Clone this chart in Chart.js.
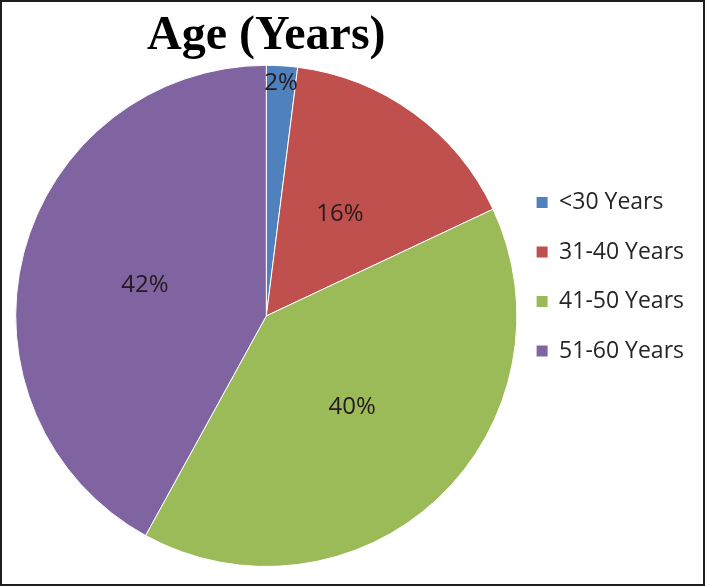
<!DOCTYPE html>
<html>
<head>
<meta charset="utf-8">
<script src="https://cdn.jsdelivr.net/npm/chart.js@4.4.0/dist/chart.umd.min.js"></script>
<style>
  html, body { margin: 0; padding: 0; background: #fff; }
  #wrap { width: 705px; height: 586px; box-sizing: border-box; border: 2px solid #1e1e1e; }
</style>
</head>
<body>
<div id="wrap"><canvas id="agePie"></canvas></div>
<script>
// data
const ageGroups = ['<30 Years', '31-40 Years', '41-50 Years', '51-60 Years'];
const agePercent = [2, 16, 40, 42];
const sliceColors = ['#4F81BD', '#C0504D', '#9BBB59', '#8064A2'];

// percentage labels inside the slices
const pctLabels = {
  id: 'pctLabels',
  afterDatasetsDraw(chart) {
    const ctx = chart.ctx;
    const meta = chart.getDatasetMeta(0);
    ctx.save();
    ctx.font = '24px "Open Sans"';
    ctx.fillStyle = '#231a1e';
    ctx.textAlign = 'center';
    ctx.textBaseline = 'middle';
    meta.data.forEach(function(arc, i) {
      const p = arc.getProps(['x', 'y', 'startAngle', 'endAngle', 'outerRadius'], true);
      const mid = (p.startAngle + p.endAngle) / 2;
      const r = p.outerRadius * (agePercent[i] < 5 ? 0.93 : 0.5);
      ctx.fillText(agePercent[i] + '%', p.x + Math.cos(mid) * r, p.y + Math.sin(mid) * r);
    });
    ctx.restore();
  }
};

const config = {
  type: 'pie',
  data: {
    labels: ageGroups,
    datasets: [{
      data: agePercent,
      backgroundColor: sliceColors,
      borderColor: '#ffffff',
      borderWidth: 1
    }]
  },
  options: {
    responsive: true,
    maintainAspectRatio: false,
    animation: false,
    layout: { padding: { left: 6, right: 9, top: 0, bottom: 17 } },
    plugins: {
      title: {
        display: true,
        fullSize: false,
        text: 'Age (Years)',
        color: '#000',
        font: { family: '"Liberation Serif", "Times New Roman", serif', size: 48, weight: 'bold', lineHeight: 1.1 },
        padding: { top: 8, bottom: 2 }
      },
      legend: {
        position: 'right',
        align: 'start',
        title: { display: true, text: '', font: { size: 10 }, padding: { top: 165, bottom: 0 } },
        labels: {
          boxWidth: 11,
          boxHeight: 11,
          padding: 12,
          color: '#262626',
          font: { family: '"Open Sans"', size: 23, lineHeight: 1.63 },
          generateLabels: function(chart) {
            const items = Chart.overrides.pie.plugins.legend.labels.generateLabels(chart);
            return items.map(function(it) { it.text = [it.text]; it.lineWidth = 0; return it; });
          }
        }
      },
      tooltip: { enabled: false }
    }
  },
  plugins: [pctLabels]
};

const agePie = new Chart(document.getElementById('agePie'), config);
</script>
</body>
</html>
